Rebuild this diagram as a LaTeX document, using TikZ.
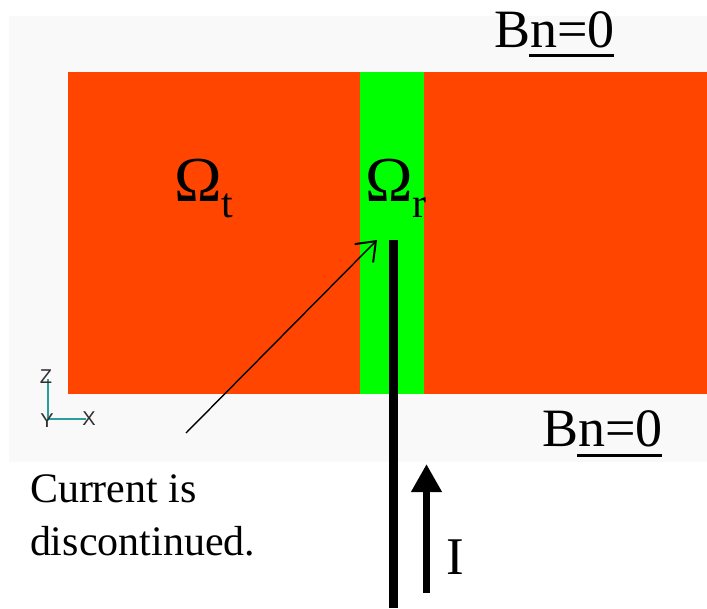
\documentclass[tikz,border=0pt]{standalone}
\usepackage{fontspec}
\setmainfont{Liberation Serif}
\newfontfamily\axfont{Liberation Sans}
\usetikzlibrary{arrows.meta}
\definecolor{bggrey}{HTML}{F9F9F9}
\definecolor{regionorange}{HTML}{FF4500}
\definecolor{regiongreen}{HTML}{00FF00}
\definecolor{axisteal}{HTML}{2A9D9D}
\definecolor{axisgrey}{HTML}{303030}
\tikzset{
  lbl/.style={inner sep=0pt, outer sep=0pt, anchor=base west, text=black},
  axlbl/.style={inner sep=0pt, outer sep=0pt, text=axisgrey, font=\axfont\fontsize{20}{20}\selectfont},
  axline/.style={axisteal, line width=1.3pt},
  uline/.style={black, line width=3pt},
}
\begin{document}
\begin{tikzpicture}[x=1pt,y=-1pt]
\useasboundingbox (0,0) rectangle (707,608);
% background
\fill[white] (0,0) rectangle (707,608);
\fill[bggrey] (9,16) rectangle (707,462);
% regions
\fill[regionorange] (68,72) rectangle (707,394);
\fill[regiongreen] (360,72) rectangle (424,394);
% labels
\node[lbl] (ot) at (174,201) {\fontsize{64}{64}\selectfont Ω\raisebox{-16pt}{\fontsize{42}{42}\selectfont t}};
\node[lbl] (or) at (365,201) {\fontsize{64}{64}\selectfont Ω\raisebox{-16pt}{\fontsize{42}{42}\selectfont r}};
\node[lbl] (bntop) at (494,47) {\fontsize{54}{54}\selectfont Bn=0};
\coordinate (ut1) at (529,55.5);
\coordinate (ut2) at (614,55.5);
\draw[uline] (ut1) -- (ut2);
\node[lbl] (bnbot) at (542,446) {\fontsize{54}{54}\selectfont Bn=0};
\coordinate (ub1) at (577,455);
\coordinate (ub2) at (662,455);
\draw[uline] (ub1) -- (ub2);
% current conductor
\coordinate (wtop) at (393.5,240);
\coordinate (wbot) at (393.5,608);
\draw[black, line width=9pt] (wtop) -- (wbot);
% current arrow
\coordinate (ibot) at (426.5,593);
\coordinate (itip) at (426.5,464);
\draw[black, line width=7pt, -{Triangle[width=29pt,length=28pt]}] (ibot) -- (itip);
\node[lbl] (ilbl) at (446,574) {\fontsize{53}{53}\selectfont I};
% note
\node[lbl, align=left, font=\fontsize{42}{53}\selectfont] (note) at (30,555) {Current is\\discontinued.};
\coordinate (nstart) at (186,433);
\coordinate (nend) at (377,240);
\draw[black, line width=1.4pt, -{Straight Barb[length=17pt,width=26pt,line width=2pt]}] (nstart) -- (nend);
% axes icon
\coordinate (ax0) at (48,419);
\coordinate (axz) at (48,379);
\coordinate (axx) at (86,419);
\draw[axline] (axz) -- (ax0) -- (axx);
\node[axlbl] (zl) at (46,377) {Z};
\node[axlbl] (yl) at (47,421) {Y};
\node[axlbl] (xl) at (89,419) {X};
\end{tikzpicture}
\end{document}
